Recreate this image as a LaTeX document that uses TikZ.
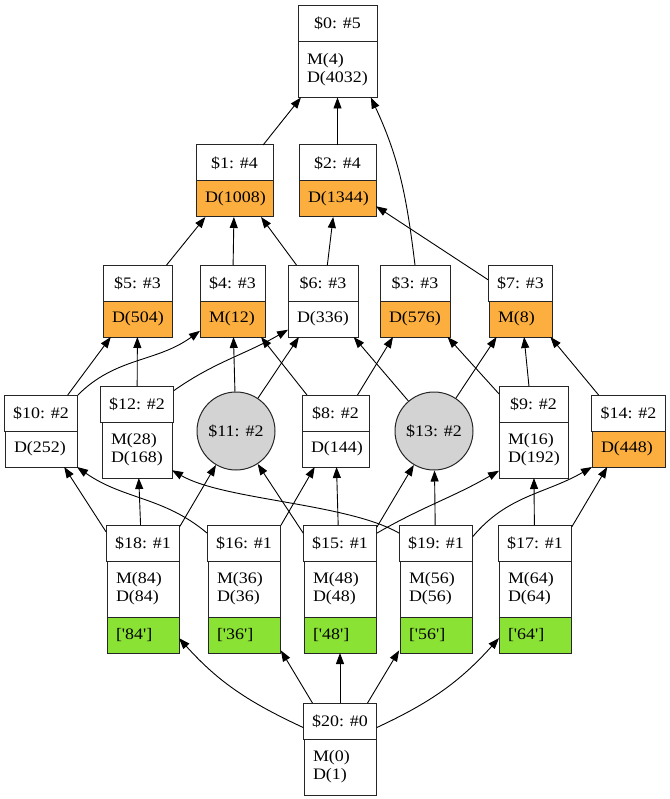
\documentclass[tikz,border=0pt]{standalone}
\usepackage{fontspec}
\setmainfont{Liberation Serif}[FakeStretch=1.12, Ligatures=TeXOff]
\usepackage{tikz}
\usetikzlibrary{arrows.meta,positioning,fit}
\definecolor{dorange}{HTML}{FCAF3E}
\definecolor{dgreen}{HTML}{8AE234}
\definecolor{dgray}{HTML}{D3D3D3}

\tikzset{
  box/.style={draw=black!85, line width=1pt, rectangle, outer sep=0pt,
              inner xsep=9pt, inner ysep=0pt, minimum width=#1},
  hdr/.style={box=#1, align=center, minimum height=36pt},
  body/.style={box=#1, text width=#1-18pt, align=left, minimum height=36pt},
  bodytwo/.style={body=#1, minimum height=56pt},
  leaf/.style={body=#1, fill=dgreen},
  hot/.style={fill=dorange},
  circ/.style={draw=black!85, line width=1pt, circle, fill=dgray,
               minimum size=78pt, inner sep=0pt},
  whole/.style={inner sep=0pt, outer sep=0pt},
  link/.style={-{Triangle[length=11pt,width=8pt]}, line width=0.9pt},
}

\begin{document}
\begin{tikzpicture}[x=1pt, y=1pt, font=\fontsize{16}{18}\selectfont]
  \useasboundingbox (0,0) rectangle (669,-799);

  % top
  \node[hdr=79pt] (h0) at (337.5,-23.5) {\$0: \#5};
  \node[bodytwo=79pt, below=0pt of h0] (m0) {M(4)\\D(4032)};
  \node[whole, fit=(h0)(m0)] (r0) {};

  \node[hdr=77pt] (h1) at (234.5,-163) {\$1: \#4};
  \node[body=77pt, hot, below=0pt of h1] (m1) {D(1008)};
  \node[whole, fit=(h1)(m1)] (r1) {};
  \node[hdr=77pt] (h2) at (337.5,-163) {\$2: \#4};
  \node[body=77pt, hot, below=0pt of h2] (m2) {D(1344)};
  \node[whole, fit=(h2)(m2)] (r2) {};

  % #3 row
  \foreach \k/\x/\w/\t/\f in {5/137.5/69pt/D(504)/dorange,
      4/232.5/65pt/M(12)/dorange, 6/323/70pt/D(336)/white,
      3/415/70pt/D(576)/dorange, 7/520.5/63pt/M(8)/dorange}{
    \node[hdr=\w] (h\k) at (\x,-283) {\$\k: \#3};
    \node[body=\w, fill=\f, below=0pt of h\k] (m\k) {\t};
    \node[whole, fit=(h\k)(m\k)] (r\k) {};
  }

  % #2 row
  \node[hdr=72pt] (h10) at (41,-413) {\$10: \#2};
  \node[body=72pt, below=0pt of h10] (m10) {D(252)};
  \node[whole, fit=(h10)(m10)] (r10) {};
  \node[hdr=70pt] (h12) at (137,-404) {\$12: \#2};
  \node[bodytwo=70pt, below=0pt of h12] (m12) {M(28)\\D(168)};
  \node[whole, fit=(h12)(m12)] (r12) {};
  \node[circ] (r11) at (236,-431) {\$11: \#2};
  \node[hdr=67pt] (h8) at (335.5,-413) {\$8: \#2};
  \node[body=67pt, below=0pt of h8] (m8) {D(144)};
  \node[whole, fit=(h8)(m8)] (r8) {};
  \node[circ] (r13) at (434,-431) {\$13: \#2};
  \node[hdr=69pt] (h9) at (533.5,-404) {\$9: \#2};
  \node[bodytwo=69pt, below=0pt of h9] (m9) {M(16)\\D(192)};
  \node[whole, fit=(h9)(m9)] (r9) {};
  \node[hdr=73pt] (h14) at (628.5,-413) {\$14: \#2};
  \node[body=73pt, hot, below=0pt of h14] (m14) {D(448)};
  \node[whole, fit=(h14)(m14)] (r14) {};

  % #1 row
  \foreach \k/\x/\v in {18/143/84, 16/244/36, 15/340/48, 19/436/56, 17/535/64}{
    \node[hdr=72pt] (h\k) at (\x,-543) {\$\k: \#1};
    \node[bodytwo=72pt, below=0pt of h\k] (m\k) {M(\v)\\D(\v)};
    \node[leaf=72pt, below=0pt of m\k] (g\k) {['\v']};
    \node[whole, fit=(h\k)(g\k)] (r\k) {};
  }

  \node[hdr=72pt] (h20) at (340,-721) {\$20: \#0};
  \node[bodytwo=72pt, below=0pt of h20] (m20) {M(0)\\D(1)};
  \node[whole, fit=(h20)(m20)] (r20) {};

  % straight links
  \foreach \a/\b in {1/0, 2/0, 5/1, 4/1, 6/1, 6/2, 7/2, 10/5, 12/5, 11/4,
      8/4, 11/6, 13/6, 8/3, 9/3, 13/7, 9/7, 14/7, 18/10, 18/12, 18/11,
      16/8, 15/11, 15/8, 15/13, 19/13, 17/9, 17/14, 20/16, 20/15, 20/19}
    \draw[link] (r\a) -- (r\b);

  % bent links
  \draw[link] (h3.north) to[out=97, in=-65] (m0.-40);
  \draw[link] (h10.north east) to[out=45, in=216] (m4.200);
  \draw[link] (h12.20) to[out=35, in=210] (m6.197);
  \draw[link] (h16.165) to[out=140, in=-35] (m10.south east);
  \draw[link] (h19.165) to[out=150, in=-30, looseness=0.65] (m12.-30);
  \draw[link] (h15.15) to[out=30, in=210] (m9.211);
  \draw[link] (h19.10) to[out=50, in=210] (m14.south west);
  \draw[link] (h20.190) to[out=155, in=-48] (g18.-5);
  \draw[link] (h20.-10) to[out=25, in=228] (g17.185);
\end{tikzpicture}
\end{document}
